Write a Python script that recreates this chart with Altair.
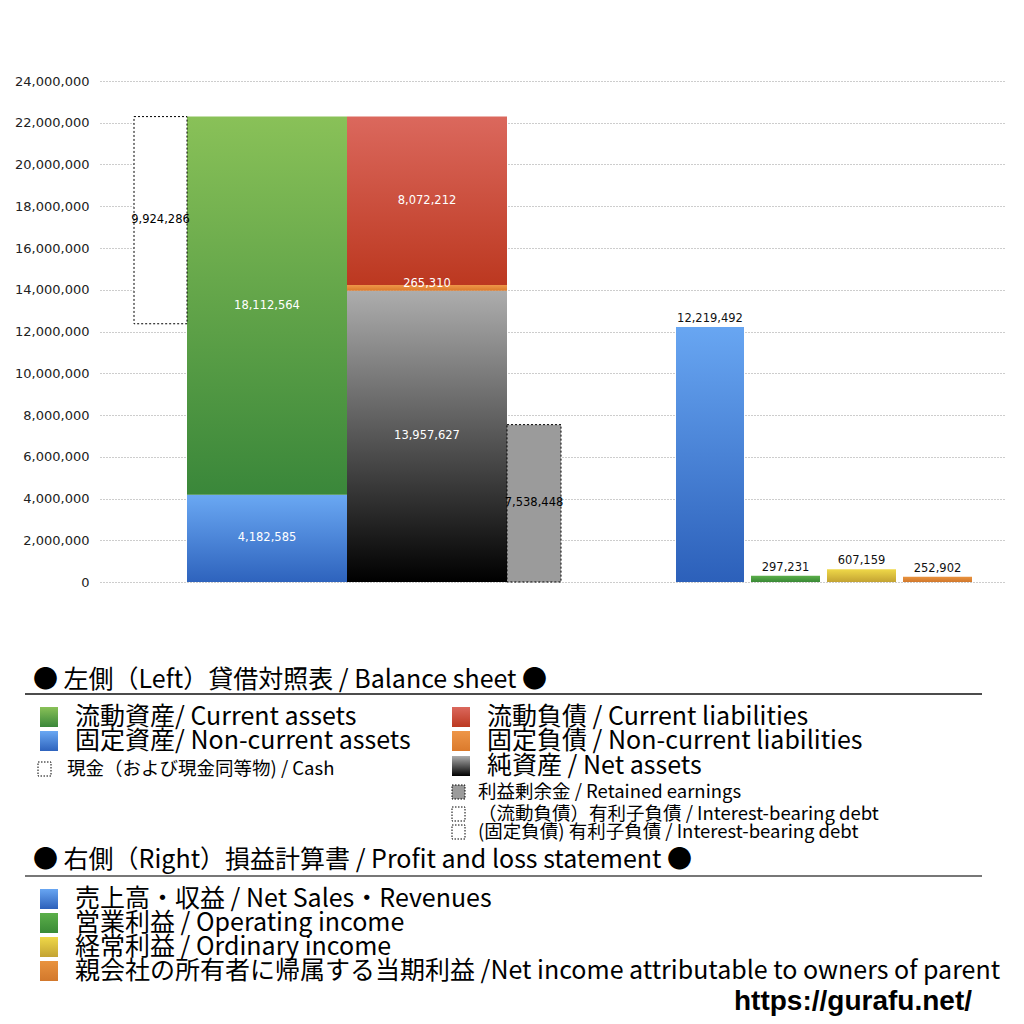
import altair as alt
import pandas as pd

# ---------------- data ----------------
bs_keys = ["cash", "current_assets", "noncurrent_assets", "current_liab",
           "noncurrent_liab", "net_assets", "retained"]
bs_values = [9924286, 18112564, 4182585, 8072212, 265310, 13957627, 7538448]

pl_keys = ["sales", "operating", "ordinary", "net_income"]
pl_values = [12219492, 297231, 607159, 252902]

y_ticks = [0, 2000000, 4000000, 6000000, 8000000, 10000000, 12000000,
           14000000, 16000000, 18000000, 20000000, 22000000, 24000000]

headers = ["● 左側（Left）貸借対照表 / Balance sheet ●",
           "● 右側（Right）損益計算書 / Profit and loss statement ●"]
bs_legend_big = ["流動資産/ Current assets", "固定資産/ Non-current assets",
                 "流動負債 /  Current liabilities", "固定負債 / Non-current liabilities",
                 "純資産 / Net assets"]
bs_legend_small = ["現金（および現金同等物) / Cash", "利益剰余金 / Retained earnings",
                   "（流動負債）有利子負債 / Interest-bearing debt",
                   "(固定負債) 有利子負債 / Interest-bearing debt"]
pl_legend = ["売上高・収益 / Net Sales・Revenues", "営業利益 / Operating income",
             "経常利益 / Ordinary income",
             "親会社の所有者に帰属する当期利益 /Net income attributable to owners of parent"]
site = "https://gurafu.net/"

# ---------------- styles / layout ----------------
GRAD = {
    "current_assets": ("#89C158", "#3A873A"),
    "noncurrent_assets": ("#6AA8F3", "#2E63BD"),
    "current_liab": ("#DB685D", "#BC3820"),
    "noncurrent_liab": ("#EE9648", "#DB7A2C"),
    "net_assets": ("#ADADAD", "#000000"),
    "sales": ("#68A6F2", "#2C60BA"),
    "operating": ("#5BAF4A", "#3A8A36"),
    "ordinary": ("#EFD848", "#C3A333"),
    "net_income": ("#E9933F", "#D2782C"),
}
# horizontal slots of the plot (x scale units, plot width 905)
SLOT = {"cash": (34, 87), "assets": (87, 247), "liab": (247, 407), "retained": (407, 461),
        "sales": (576, 644), "operating": (651, 720), "ordinary": (727, 796), "net_income": (803, 872)}

FONT_JP = "Noto Sans CJK JP"
FONT_NUM = "DejaVu Sans"


def grad(key):
    top, bottom = GRAD[key]
    return alt.Gradient(gradient="linear", x1=0, x2=0, y1=0, y2=1,
                        stops=[alt.GradientStop(color=top, offset=0),
                               alt.GradientStop(color=bottom, offset=1)])


V = dict(zip(bs_keys, bs_values))
total_assets = V["current_assets"] + V["noncurrent_assets"]
segments = [
    # key, slot, y0, y1, label colour, style
    ("noncurrent_assets", "assets", 0, V["noncurrent_assets"], "white", "grad"),
    ("current_assets", "assets", V["noncurrent_assets"], total_assets, "white", "grad"),
    ("cash", "cash", total_assets - V["cash"], total_assets, "black", "dash_white"),
    ("net_assets", "liab", 0, V["net_assets"], "white", "grad"),
    ("noncurrent_liab", "liab", V["net_assets"], V["net_assets"] + V["noncurrent_liab"], "white", "grad"),
    ("current_liab", "liab", V["net_assets"] + V["noncurrent_liab"],
     V["net_assets"] + V["noncurrent_liab"] + V["current_liab"], "white", "grad"),
    ("retained", "retained", 0, V["retained"], "black", "dash_gray"),
]
for k, v in zip(pl_keys, pl_values):
    segments.append((k, k, 0, v, "#111", "grad_top"))

X_MAIN = dict(scale=alt.Scale(domain=[0, 905], nice=False, zero=False), axis=None)
Y_SCALE = alt.Scale(domain=[0, 24000000], nice=False)
Y_AXIS = alt.Axis(values=y_ticks, format=",d", title=None, grid=True, gridDash=[1, 2],
                  gridColor="#9a9a9a", gridWidth=1, domain=False, ticks=False,
                  labelFont=FONT_NUM, labelFontSize=13, labelColor="#222",
                  labelPadding=11)

bar_layers, text_layers = [], []
for key, slot, y0, y1, lcol, style in segments:
    x0, x1 = SLOT[slot]
    df = pd.DataFrame({"x0": [x0], "x1": [x1], "y0": [y0], "y1": [y1],
                       "xm": [(x0 + x1) / 2], "ym": [(y0 + y1) / 2],
                       "yt": [y1], "label": [f"{y1 - y0:,}"]})
    if style == "dash_white":
        mk = alt.Chart(df).mark_rect(fill="white", stroke="black", strokeDash=[2, 2], strokeWidth=1)
    elif style == "dash_gray":
        mk = alt.Chart(df).mark_rect(fill="#9B9B9B", stroke="black", strokeDash=[2, 2], strokeWidth=1)
    else:
        mk = alt.Chart(df).mark_rect(color=grad(key))
    bar_layers.append(mk.encode(x=alt.X("x0:Q", **X_MAIN), x2="x1:Q",
                                y=alt.Y("y0:Q", scale=Y_SCALE, axis=Y_AXIS), y2="y1:Q"))
    if style == "grad_top":
        txt = alt.Chart(df).mark_text(font=FONT_NUM, fontSize=11.5, color=lcol, baseline="bottom", dy=-3).encode(
            x=alt.X("xm:Q", **X_MAIN), y=alt.Y("yt:Q", scale=Y_SCALE, axis=Y_AXIS), text="label:N")
    else:
        dy = -4 if key == "noncurrent_liab" else 0
        txt = alt.Chart(df).mark_text(font=FONT_NUM, fontSize=11.5, color=lcol, baseline="middle", dy=dy).encode(
            x=alt.X("xm:Q", **X_MAIN), y=alt.Y("ym:Q", scale=Y_SCALE, axis=Y_AXIS), text="label:N")
    text_layers.append(txt)

main = alt.layer(*bar_layers, *text_layers)

# ---------------- legend (page-coordinate layout through its own scales) ----------------
LX = dict(scale=alt.Scale(domain=[0, 1024], range=[-100, 924], nice=False, zero=False), axis=None)
LY = dict(scale=alt.Scale(domain=[0, 1024], range=[-81, 943], nice=False, zero=False), axis=None)

leg_layers = []


def text_layer(rows, size, weight="normal", font=FONT_JP, align="left", color="black"):
    df = pd.DataFrame(rows, columns=["tx", "ty", "t"])
    return alt.Chart(df).mark_text(font=font, fontSize=size, fontWeight=weight, align=align,
                                   baseline="middle", color=color).encode(
        x=alt.X("tx:Q", **LX), y=alt.Y("ty:Q", **LY), text="t:N")


def square(x0, x1, y0, y1, fill=None, dashed=False):
    df = pd.DataFrame({"a": [x0], "b": [x1], "c": [y0], "d": [y1]})
    if dashed:
        m = alt.Chart(df).mark_rect(fill=fill or "white", stroke="black", strokeDash=[1.5, 1.5], strokeWidth=1)
    else:
        m = alt.Chart(df).mark_rect(color=fill)
    return m.encode(x=alt.X("a:Q", **LX), x2="b:Q", y=alt.Y("c:Q", **LY), y2="d:Q")


# headers
leg_layers.append(text_layer([(33, 680, headers[0]), (33, 860, headers[1])], 25))
rule_df = pd.DataFrame({"a": [25, 25], "b": [982, 982], "c": [694, 876], "k": ["l1", "l2"]})
leg_layers.append(alt.Chart(rule_df[rule_df.k == "l1"]).mark_rule(color="#111", strokeWidth=1.3).encode(
    x=alt.X("a:Q", **LX), x2="b:Q", y=alt.Y("c:Q", **LY)))
leg_layers.append(alt.Chart(rule_df[rule_df.k == "l2"]).mark_rule(color="#777", strokeWidth=2).encode(
    x=alt.X("a:Q", **LX), x2="b:Q", y=alt.Y("c:Q", **LY)))

# big balance-sheet items
big_pos = [(40, 75, 717, "current_assets"), (40, 75, 741, "noncurrent_assets"),
           (452, 487, 717, "current_liab"), (452, 487, 741, "noncurrent_liab"),
           (452, 487, 766, "net_assets")]
rows = []
for (sx, tx, cy, key), lab in zip(big_pos, bs_legend_big):
    leg_layers.append(square(sx, sx + 18, cy - 10, cy + 10, grad(key)))
    rows.append((tx, cy, lab))
leg_layers.append(text_layer(rows, 25))

# small items
small_pos = [(38, 67, 769, "dash_white"), (452, 478, 792, "dash_gray"),
             (452, 478, 814, "dash_white"), (452, 478, 832, "dash_white")]
rows = []
for (sx, tx, cy, st), lab in zip(small_pos, bs_legend_small):
    leg_layers.append(square(sx, sx + 13, cy - 7, cy + 7, "#9B9B9B" if st == "dash_gray" else "white", True))
    rows.append((tx, cy, lab))
leg_layers.append(text_layer(rows, 18.5))

# profit & loss items
pl_pos = [899, 923, 947, 971]
rows = []
for cy, key, lab in zip(pl_pos, pl_keys, pl_legend):
    leg_layers.append(square(40, 58, cy - 10, cy + 10, grad(key)))
    rows.append((75, cy, lab))
leg_layers.append(text_layer(rows, 25))

# site
leg_layers.append(text_layer([(972, 1002, site)], 28, weight="bold", font="Liberation Sans", align="right"))

legend = alt.layer(*leg_layers)

chart = alt.layer(main, legend).resolve_scale(x="independent", y="independent").properties(
    width=905, height=501,
    autosize=alt.AutoSizeParams(type="none"),
    padding={"left": 92, "top": 73, "right": 11, "bottom": 434},
).configure_view(stroke=None)

chart.save("out.html", embed_options={"renderer": "svg", "actions": False})
